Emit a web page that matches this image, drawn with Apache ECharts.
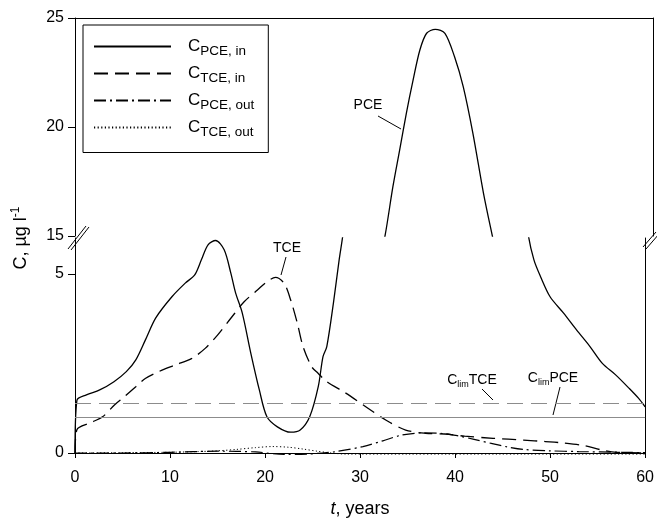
<!DOCTYPE html>
<html lang="en">
<head>
<meta charset="UTF-8">
<title>PCE / TCE concentrations</title>
<script src="https://cdn.jsdelivr.net/npm/echarts@6/dist/echarts.min.js"></script>
<style>html,body{margin:0;padding:0;background:#fff}</style>
</head>
<body>
<div id="main" style="width:657px;height:521px"></div>
<script>
// legend names (subscripts of C)
var seriesNames = ['PCE, in', 'TCE, in', 'PCE, out', 'TCE, out'];

// [t (years), C (ug/l)]
var pceIn = [[0, 0], [0.2, 1.47], [1.2, 1.62], [2.6, 1.76], [4.1, 1.99], [5.4, 2.27], [6.4, 2.6], [7.4, 3.15],
    [8.5, 3.77], [10.2, 4.36], [11.6, 4.74], [12.6, 4.97], [13.3, 5.39], [14.0, 5.81], [14.8, 5.93], [15.7, 5.67],
    [16.4, 5.02], [16.9, 4.47], [17.6, 3.91], [18.5, 2.79], [19.4, 1.76], [20.2, 1.01], [21.3, 0.73], [22.7, 0.58],
    [23.7, 0.64], [24.7, 1.01], [25.6, 1.85], [26.1, 2.69], [26.5, 2.97], [27.2, 4.19], [27.8, 5.39], [28.2, 6.1],
    [30.2, 10.5], [32.2, 15.05], [33.0, 17.26], [33.7, 18.94], [34.4, 20.64], [35.1, 22.16], [35.8, 23.53],
    [36.5, 24.3], [37.4, 24.48], [38.4, 24.3], [39.4, 23.22], [40.3, 21.85], [41.3, 19.72], [42.4, 16.97],
    [43.3, 15.05], [45.5, 10.5], [47.7, 6.1], [48.3, 5.39], [49.0, 4.92], [50.0, 4.36], [51.4, 3.91], [52.8, 3.43],
    [54.2, 2.97], [55.5, 2.5], [56.9, 2.18], [58.3, 1.81], [59.3, 1.53], [60, 1.29]];
var tceIn = [[0, 0], [0.2, 0.65], [1.6, 0.84], [2.9, 1.01], [4.15, 1.34], [5.2, 1.57], [6.4, 1.85], [7.4, 2.08],
    [8.8, 2.27], [10.6, 2.46], [12.3, 2.64], [13.7, 2.92], [15.0, 3.29], [16.4, 3.76], [17.8, 4.22], [19.2, 4.55],
    [20.2, 4.78], [21.1, 4.9], [22.0, 4.74], [22.7, 4.27], [23.4, 3.62], [24.0, 2.97], [24.9, 2.41], [25.6, 2.22],
    [26.5, 1.99], [28.5, 1.67], [30.6, 1.29], [32.7, 0.92], [34.8, 0.64], [36.9, 0.55], [38.9, 0.53], [41.0, 0.47],
    [44.0, 0.41], [47.2, 0.36], [49.5, 0.32], [51.4, 0.28], [53.5, 0.21], [55.5, 0.08], [57.0, 0.02], [60, 0]];
var pceOut = [[0, 0], [5, 0.0], [10, 0.02], [15, 0.05], [19, 0.03], [22, -0.04], [24.5, -0.03], [26, 0.0],
    [27.5, 0.04], [30.3, 0.18], [32.4, 0.34], [34.4, 0.5], [36.5, 0.56], [38.9, 0.54], [40.3, 0.48], [42, 0.38],
    [43.8, 0.27], [45.5, 0.17], [47.2, 0.1], [50, 0.06], [53, 0.04], [57.6, 0.02], [60, 0.01]];
var tceOut = [[0, 0], [5, 0.01], [10, 0.02], [13, 0.04], [15, 0.06], [17, 0.1], [19, 0.15], [20.8, 0.18],
    [22.5, 0.16], [24, 0.11], [25.5, 0.05], [27, 0.0], [28.5, -0.03], [35, -0.03], [45, -0.03], [60, -0.03]];

// limit concentrations
var climTCE = 1.4;
var climPCE = 1.0;

// axis ranges / ticks
var xRange = [0, 60];
var upperRange = [15, 25];
var lowerRange = [0, 6];
var lowerTicks = [0, 5];

var font = 'Arial, "Liberation Sans", sans-serif';
var black = '#000';
var gray = '#8c8c8c';

var mychart = echarts.init(document.getElementById('main'));

function axisLine() {
    return {show: true, lineStyle: {color: black, width: 1}};
}

function line(name, data, xi, yi, type, width, extra) {
    var s = {
        name: name,
        type: 'line',
        xAxisIndex: xi,
        yAxisIndex: yi,
        data: data,
        symbol: 'none',
        smooth: 0.3,
        lineStyle: {color: black, width: width, type: type},
        itemStyle: {color: black}
    };
    for (var k in extra) s[k] = extra[k];
    return s;
}

var option = {
    animation: false,
    backgroundColor: '#fff',
    textStyle: {fontFamily: font, color: black},
    grid: [
        {left: 75, right: 4, top: 18, height: 218},
        {left: 75, right: 4, top: 238, height: 215}
    ],
    xAxis: [
        {
            gridIndex: 0, type: 'value', min: xRange[0], max: xRange[1], position: 'top',
            axisLine: axisLine(), axisTick: {show: false}, axisLabel: {show: false}, splitLine: {show: false}
        },
        {
            gridIndex: 1, type: 'value', min: xRange[0], max: xRange[1], interval: 10,
            axisLine: axisLine(),
            axisTick: {length: 5, lineStyle: {color: black}},
            axisLabel: {fontSize: 16, color: black, margin: 17, fontFamily: font},
            splitLine: {show: false},
            name: '{i|t}, years',
            nameLocation: 'middle',
            nameGap: 47,
            nameTextStyle: {
                fontSize: 18, color: black, fontFamily: font,
                rich: {i: {fontStyle: 'italic', fontSize: 18, fontFamily: font}}
            }
        }
    ],
    yAxis: [
        {
            gridIndex: 0, type: 'value', min: upperRange[0], max: upperRange[1], interval: 5,
            axisLine: axisLine(),
            axisTick: {show: true, length: 7, lineStyle: {color: black}},
            axisLabel: {fontSize: 16, color: black, margin: 11, fontFamily: font},
            splitLine: {show: false}
        },
        {
            gridIndex: 0, type: 'value', min: upperRange[0], max: upperRange[1], position: 'right',
            axisLine: axisLine(), axisTick: {show: false}, axisLabel: {show: false}, splitLine: {show: false}
        },
        {
            gridIndex: 1, type: 'value', min: lowerRange[0], max: lowerRange[1],
            axisLine: axisLine(),
            axisTick: {show: true, length: 7, customValues: lowerTicks, lineStyle: {color: black}},
            axisLabel: {fontSize: 16, color: black, margin: 11, customValues: lowerTicks, fontFamily: font},
            splitLine: {show: false}
        },
        {
            gridIndex: 1, type: 'value', min: lowerRange[0], max: lowerRange[1], position: 'right',
            axisLine: axisLine(), axisTick: {show: false}, axisLabel: {show: false}, splitLine: {show: false}
        }
    ],
    legend: {
        orient: 'vertical',
        left: 83,
        top: 25,
        data: seriesNames,
        selectedMode: false,
        itemWidth: 77,
        itemHeight: 14,
        itemGap: 6.5,
        padding: [13, 14, 13, 10],
        borderColor: black,
        borderWidth: 1,
        backgroundColor: '#fff',
        itemStyle: {opacity: 0},
        formatter: function (n) {
            return '{c|C}{s|' + n + '}';
        },
        textStyle: {
            padding: [0, 0, 0, 12],
            rich: {
                c: {fontSize: 17, lineHeight: 24, fontFamily: font, color: black},
                s: {fontSize: 13.5, verticalAlign: 'bottom', fontFamily: font, color: black}
            }
        }
    },
    series: [
        line(seriesNames[0], pceIn, 0, 0, 'solid', 1.3, {}),
        line(seriesNames[0], pceIn, 1, 2, 'solid', 1.3, {}),
        line(seriesNames[1], tceIn, 1, 2, [14, 7], 1.3, {}),
        line(seriesNames[2], pceOut, 1, 2, [12, 4, 2, 4], 1.2, {clip: false}),
        line(seriesNames[3], tceOut, 1, 2, [1.2, 2.4], 1, {
            clip: false,
            markLine: {
                silent: true,
                symbol: 'none',
                label: {show: false},
                data: [
                    {yAxis: climTCE, lineStyle: {color: gray, width: 1.2, type: [16, 8]}},
                    {yAxis: climPCE, lineStyle: {color: gray, width: 1.2, type: 'solid'}}
                ]
            }
        })
    ],
    graphic: [
        // y axis title
        {
            type: 'text', x: 21, y: 238, rotation: Math.PI / 2,
            style: {
                text: '{a|C, µg l}{b|-1}',
                align: 'center', verticalAlign: 'middle',
                rich: {
                    a: {fontSize: 18, lineHeight: 22, fontFamily: font, fill: black},
                    b: {fontSize: 12, verticalAlign: 'top', fontFamily: font, fill: black}
                }
            }
        },
        // axis break marks
        {type: 'line', shape: {x1: 68, y1: 249, x2: 86, y2: 226}, style: {stroke: black, lineWidth: 1}},
        {type: 'line', shape: {x1: 71, y1: 250, x2: 89, y2: 227}, style: {stroke: black, lineWidth: 1}},
        {type: 'line', shape: {x1: 643, y1: 247, x2: 656, y2: 232}, style: {stroke: black, lineWidth: 1}},
        {type: 'line', shape: {x1: 646, y1: 249, x2: 659, y2: 234}, style: {stroke: black, lineWidth: 1}},
        // curve annotations
        {type: 'text', x: 368, y: 105, style: {text: 'PCE', font: '14px ' + font, fill: black, align: 'center', verticalAlign: 'middle'}},
        {type: 'line', shape: {x1: 378, y1: 116, x2: 401, y2: 129}, style: {stroke: black, lineWidth: 1}},
        {type: 'text', x: 287, y: 248, style: {text: 'TCE', font: '14px ' + font, fill: black, align: 'center', verticalAlign: 'middle'}},
        {type: 'line', shape: {x1: 286, y1: 257, x2: 281, y2: 275}, style: {stroke: black, lineWidth: 1}},
        {
            type: 'text', x: 472, y: 380,
            style: {
                text: '{a|C}{b|lim}{a|TCE}', align: 'center', verticalAlign: 'middle',
                rich: {
                    a: {fontSize: 14, lineHeight: 18, fontFamily: font, fill: black},
                    b: {fontSize: 9, verticalAlign: 'bottom', fontFamily: font, fill: black}
                }
            }
        },
        {type: 'line', shape: {x1: 482, y1: 389, x2: 493, y2: 400}, style: {stroke: black, lineWidth: 1}},
        {
            type: 'text', x: 553, y: 378,
            style: {
                text: '{a|C}{b|lim}{a|PCE}', align: 'center', verticalAlign: 'middle',
                rich: {
                    a: {fontSize: 14, lineHeight: 18, fontFamily: font, fill: black},
                    b: {fontSize: 9, verticalAlign: 'bottom', fontFamily: font, fill: black}
                }
            }
        },
        {type: 'line', shape: {x1: 560, y1: 387, x2: 553, y2: 415}, style: {stroke: black, lineWidth: 1}}
    ]
};

mychart.setOption(option);
</script>
</body>
</html>
